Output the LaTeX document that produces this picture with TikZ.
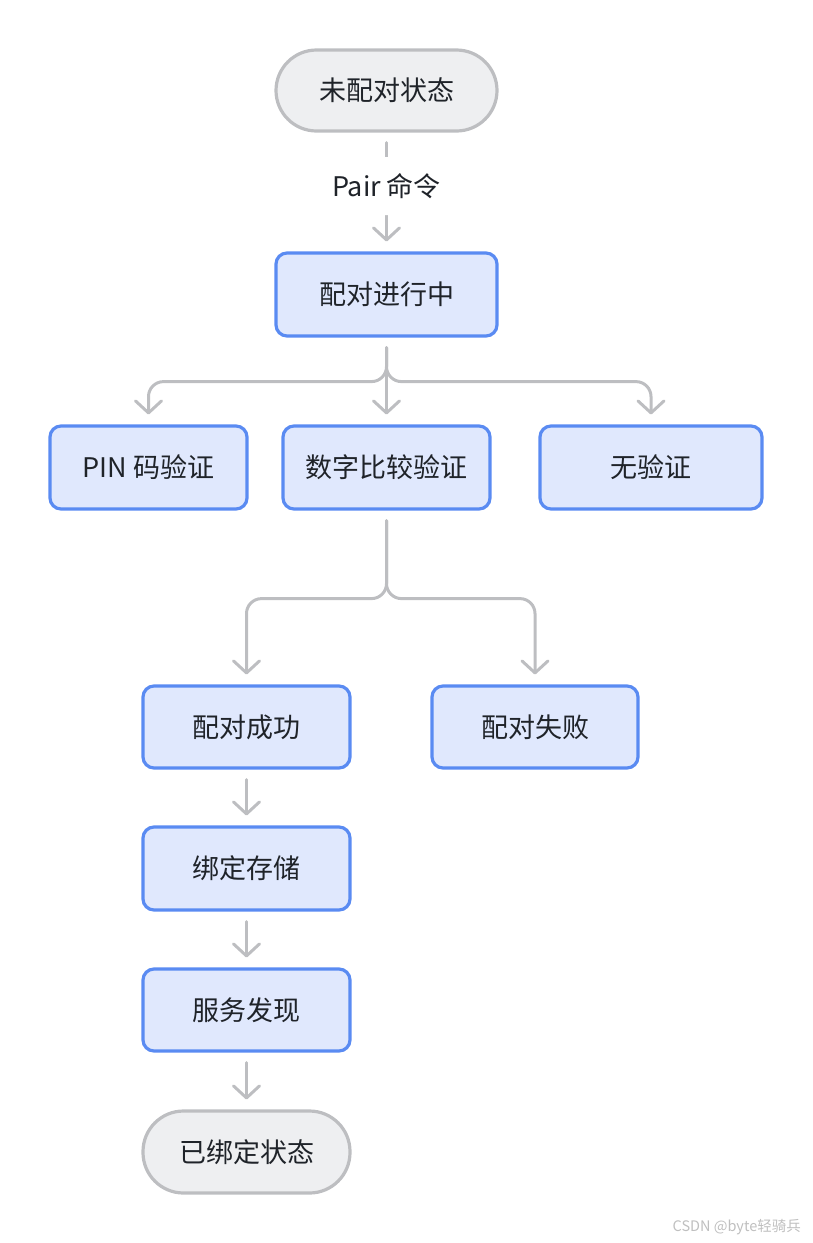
\documentclass[tikz,border=0pt]{standalone}
\usepackage{fontspec}
\setmainfont{Noto Sans CJK SC}
\usetikzlibrary{arrows.meta}
\definecolor{bluefill}{HTML}{E0E8FD}
\definecolor{bluedraw}{HTML}{5A8BF2}
\definecolor{grayfill}{HTML}{EEEFF1}
\definecolor{graydraw}{HTML}{BDBEC1}
\definecolor{txt}{HTML}{1F2329}
\tikzset{
  base/.style={line width=3.2pt, text=txt, font=\fontsize{27}{32}\selectfont, inner sep=0pt, anchor=center},
  stadium/.style={base, draw=graydraw, fill=grayfill, rounded corners=40.5pt},
  procbox/.style={base, draw=bluedraw, fill=bluefill, rounded corners=11pt},
  conn/.style={draw=graydraw, line width=3pt, rounded corners=15pt, line cap=round,
    -{Straight Barb[length=12pt,width=26pt,line width=3pt,round]}, shorten >=10pt, shorten <=10pt},
}
\begin{document}
\begin{tikzpicture}[x=1pt,y=-1pt]
\useasboundingbox (0,0) rectangle (812,1243);
\node[stadium, minimum width=221pt, minimum height=81pt] (start) at (386.5,90.5) {未配对状态};
\node[procbox, minimum width=221pt, minimum height=83pt] (pairing) at (386.5,294.5) {配对进行中};
\node[procbox, minimum width=197pt, minimum height=83pt] (pin) at (148.5,467.5) {PIN 码验证};
\node[procbox, minimum width=207pt, minimum height=83pt] (num) at (386.5,467.5) {数字比较验证};
\node[procbox, minimum width=222pt, minimum height=83pt] (none) at (651,467.5) {无验证};
\node[procbox, minimum width=207pt, minimum height=82pt] (ok) at (246.5,727) {配对成功};
\node[procbox, minimum width=206pt, minimum height=82pt] (fail) at (535,727) {配对失败};
\node[procbox, minimum width=207pt, minimum height=83pt] (store) at (246.5,868.5) {绑定存储};
\node[procbox, minimum width=207pt, minimum height=82pt] (disc) at (246.5,1010) {服务发现};
\node[stadium, minimum width=207pt, minimum height=82pt] (bound) at (246.5,1152) {已绑定状态};

\draw[conn] (start) -- node[fill=white, text=txt, font=\fontsize{27}{32}\selectfont, inner sep=0pt, minimum height=58pt, pos=0.45] (lbl) {Pair 命令} (pairing);

\draw[conn] (pairing.south) -- ++(0,44) -| (pin.north);
\draw[conn] (pairing.south) -- (num.north);
\draw[conn] (pairing.south) -- ++(0,44) -| (none.north);

\draw[conn] (num.south) -- ++(0,88) -| (ok.north);
\draw[conn] (num.south) -- ++(0,88) -| (fail.north);

\draw[conn] (ok) -- (store);
\draw[conn] (store) -- (disc);
\draw[conn] (disc) -- (bound);

\node[text=black!25, font=\fontsize{14.5}{16}\selectfont, anchor=east, inner sep=0pt] (wm) at (801,1227) {CSDN @byte轻骑兵};
\end{tikzpicture}
\end{document}
